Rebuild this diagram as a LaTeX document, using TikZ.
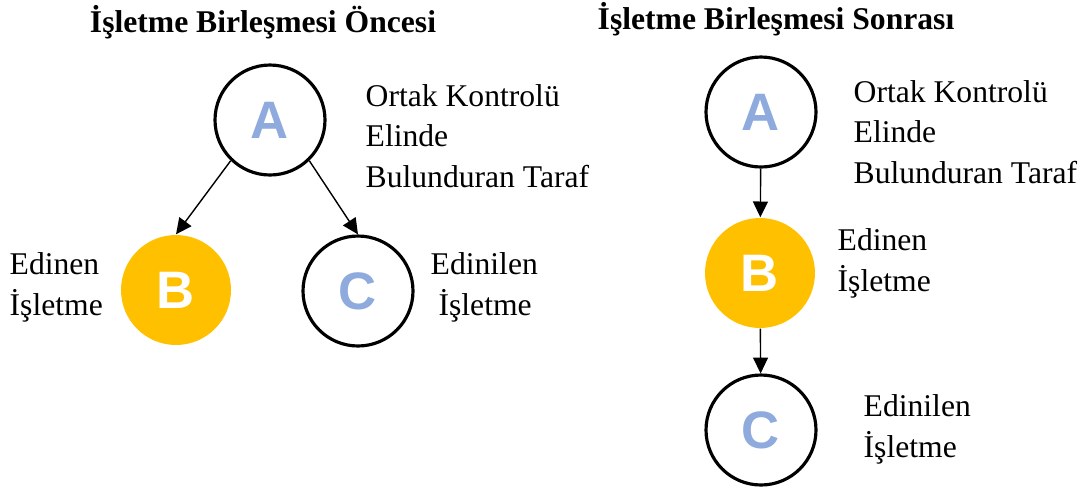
\documentclass[tikz,border=0pt]{standalone}
\usepackage{fontspec}
\setmainfont{Liberation Serif}
\newfontfamily\letterfont{Liberation Sans}
\usepackage{xcolor}
\usepackage{tikz}
\usetikzlibrary{arrows.meta}
\usetikzlibrary{positioning}
\definecolor{gold}{HTML}{FFC000}
\definecolor{letterblue}{HTML}{8FAADC}
\tikzset{%
  firm/.style = {circle, minimum size=2.2cm, inner sep=0pt, font=\letterfont\bfseries\fontsize{30}{30}\selectfont},
  plain/.style = {firm, draw=black, line width=1.8pt, text=letterblue},
  acquirer/.style = {firm, fill=gold, text=white},
  note/.style = {align=left, inner sep=0pt, anchor=base west, font=\fontsize{18}{22.8}\selectfont},
  heading/.style = {inner sep=0pt, anchor=base, font=\bfseries\fontsize{18}{22}\selectfont}
}

\begin{document}
\begin{tikzpicture}[%
    x=0.02cm, y=-0.02cm,
    >={Triangle[length=9pt,width=8.5pt]},
    line width=0.8pt]
  \useasboundingbox (0,0) rectangle (1092,488);

  % Before the combination
  \node[heading] (title-before) at (263,32) {İşletme Birleşmesi Öncesi};
  \node[plain] (a-before) at (270,120) {A};
  \node[acquirer] (b-before) at (176,290) {B};
  \node[plain] (c-before) at (358,291) {C};
  \node[note] (a-before-note) at (365,187) {Ortak Kontrolü\\Elinde\\Bulunduran Taraf};
  \node[note] (b-before-note) at (9,315) {Edinen\\İşletme};
  \node[note] (c-before-note) at (430,315) {Edinilen\\\hspace{4.5pt}İşletme};

  \draw[->] (a-before.226) -- (b-before.north);
  \draw[->] (a-before.314) -- (c-before.north);

  % After the combination
  \node[heading] (title-after) at (776,29) {İşletme Birleşmesi Sonrası};
  \node[plain] (a-after) at (761,112) {A};
  \node[acquirer] (b-after) at (760,273) {B};
  \node[plain] (c-after) at (761,430) {C};
  \node[note] (a-after-note) at (853,183) {Ortak Kontrolü\\Elinde\\Bulunduran Taraf};
  \node[note] (b-after-note) at (837,291) {Edinen\\İşletme};
  \node[note] (c-after-note) at (863,457) {Edinilen\\İşletme};

  \draw[->] (a-after) -- (b-after);
  \draw[->] (b-after) -- (c-after);
\end{tikzpicture}
\end{document}
